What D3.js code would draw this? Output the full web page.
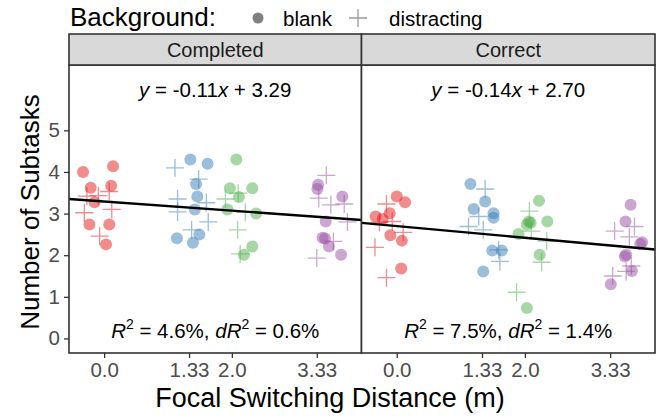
<!DOCTYPE html>
<html><head><meta charset="utf-8">
<script src="https://cdn.jsdelivr.net/npm/d3@7"></script>
<style>body{margin:0;background:#fff}text{font-family:"Liberation Sans",Arial,sans-serif}</style>
</head><body><svg id="c" width="660" height="418"></svg>
<script>
// ---- data ----
const distances = [0, 1.33, 2.0, 3.33];
const distanceLabels = ["0.0", "1.33", "2.0", "3.33"];
const colors = ["#E41A1C", "#377EB8", "#4DAF4A", "#984EA3"];
const panels = ["Completed", "Correct"];
const yTicks = [0, 1, 2, 3, 4, 5];
const equations = [{slope: -0.11, intercept: 3.29}, {slope: -0.14, intercept: 2.70}];
const r2 = ["4.6%", "7.5%"];
const dr2 = ["0.6%", "1.4%"];

// jittered points: [x, y] per distance group
const completedBlank = [
  [[-0.33,4.00],[0.14,4.14],[-0.21,3.62],[0.11,3.67],[-0.15,3.27],[-0.23,2.74],[0.08,2.74],[0.03,2.26]],
  [[1.35,4.30],[1.62,4.20],[1.44,3.71],[1.46,3.41],[1.42,3.10],[1.49,2.50],[1.14,2.41],[1.39,2.30]],
  [[2.07,4.30],[1.97,3.61],[2.32,3.61],[2.11,3.40],[1.93,3.10],[2.38,3.00],[2.32,2.21],[2.19,2.01]],
  [[3.35,3.69],[3.34,3.59],[3.73,3.41],[3.47,2.81],[3.42,2.42],[3.46,2.40],[3.52,2.21],[3.71,2.01]]
];
const completedDistracting = [
  [[-0.09,3.43],[0.08,3.53],[-0.27,3.42],[-0.31,3.02],[0.12,3.10],[-0.07,2.46]],
  [[1.11,4.10],[1.48,3.83],[1.15,3.35],[1.15,3.04],[1.60,3.26],[1.63,2.80],[1.37,2.61]],
  [[1.90,3.35],[2.10,3.49],[2.21,3.03],[2.09,2.61],[2.13,2.03]],
  [[3.48,3.92],[3.36,3.37],[3.55,3.21],[3.76,3.23],[3.81,2.80],[3.59,2.33],[3.33,1.93]]
];
const correctBlank = [
  [[0.00,3.41],[0.13,3.27],[-0.11,3.01],[-0.33,2.93],[-0.22,2.87],[-0.10,2.48],[0.08,2.35],[0.07,1.68]],
  [[1.15,3.71],[1.38,3.29],[1.20,3.11],[1.51,3.01],[1.51,2.90],[1.49,2.11],[1.64,2.11],[1.35,1.61]],
  [[2.22,3.31],[2.35,2.81],[2.06,2.81],[2.03,2.73],[2.09,2.78],[1.90,2.51],[2.23,2.01],[2.03,0.73]],
  [[3.65,3.21],[3.57,2.81],[3.83,2.31],[3.80,2.27],[3.58,2.01],[3.56,1.97],[3.67,1.62],[3.34,1.30]]
];
const correctDistracting = [
  [[-0.16,3.23],[-0.27,2.79],[-0.07,2.81],[0.10,2.55],[-0.34,2.19],[-0.16,1.46]],
  [[1.38,3.59],[1.28,2.93],[1.12,2.69],[1.35,2.61],[1.59,2.13],[1.61,1.85]],
  [[2.07,3.06],[2.10,2.58],[2.34,2.34],[2.26,1.83],[1.87,1.11]],
  [[3.40,2.58],[3.71,2.69],[3.63,2.44],[3.66,1.74],[3.37,1.50],[3.58,1.61]]
];
const blankData = [completedBlank, correctBlank];
const distractingData = [completedDistracting, correctDistracting];

(function () {
// ---- layout ----
const svg = d3.select("#c");
const xDomain = [-0.55, 4.03];
const panelX = [[69, 361.5], [361.5, 655]];
const pTop = 65, pBottom = 353, stripTop = 34;
const y = d3.scaleLinear().domain([-0.35, 6.57]).range([pBottom, pTop]);
const border = "#333333";

panels.forEach((name, p) => {
  const x = d3.scaleLinear().domain(xDomain).range(panelX[p]);
  const g = svg.append("g");
  const [x0, x1] = panelX[p];
  g.append("rect").attr("x", x0).attr("y", pTop).attr("width", x1 - x0).attr("height", pBottom - pTop)
    .attr("fill", "#fff");
  blankData[p].forEach((grp, i) => {
    g.selectAll(null).data(grp).enter().append("circle")
      .attr("cx", d => x(d[0])).attr("cy", d => y(d[1])).attr("r", 6)
      .attr("fill", colors[i]).attr("fill-opacity", 0.5);
  });
  distractingData[p].forEach((grp, i) => {
    const s = 9;
    g.selectAll(null).data(grp).enter().append("path")
      .attr("d", d => { const cx = x(d[0]), cy = y(d[1]);
        return `M${cx - s},${cy}H${cx + s}M${cx},${cy - s}V${cy + s}`; })
      .attr("stroke", colors[i]).attr("stroke-opacity", 0.5).attr("stroke-width", 1.3).attr("fill", "none");
  });
  const eq = equations[p];
  g.append("line").attr("x1", x(xDomain[0])).attr("x2", x(xDomain[1]))
    .attr("y1", y(eq.intercept + eq.slope * xDomain[0])).attr("y2", y(eq.intercept + eq.slope * xDomain[1]))
    .attr("stroke", "#000").attr("stroke-width", 2.4);
  g.append("rect").attr("x", x0).attr("y", pTop).attr("width", x1 - x0).attr("height", pBottom - pTop)
    .attr("fill", "none").attr("stroke", border).attr("stroke-width", 1.6);
  g.append("rect").attr("x", x0).attr("y", stripTop).attr("width", x1 - x0).attr("height", pTop - stripTop)
    .attr("fill", "#D9D9D9").attr("stroke", border).attr("stroke-width", 1.6);
  g.append("text").attr("x", (x0 + x1) / 2).attr("y", 57).attr("text-anchor", "middle")
    .attr("font-size", 20).attr("fill", "#1A1A1A").text(name);
  const ax = g.append("g").attr("transform", `translate(0,${pBottom})`)
    .call(d3.axisBottom(x).tickValues(distances).tickFormat((d, i) => distanceLabels[i]).tickSize(5).tickPadding(4));
  ax.select(".domain").remove();
  ax.selectAll("line").attr("stroke", border).attr("stroke-width", 1.3);
  ax.selectAll("text").attr("font-size", 20.5).attr("fill", "#4D4D4D").attr("font-family", "Liberation Sans, Arial, sans-serif");
  const cx = (x0 + x1) / 2;
  const t1 = g.append("text").attr("x", cx).attr("y", 97).attr("text-anchor", "middle").attr("font-size", 20.5).attr("fill", "#000");
  t1.append("tspan").attr("font-style", "italic").text("y");
  t1.append("tspan").text(` = ${eq.slope.toFixed(2)}`);
  t1.append("tspan").attr("font-style", "italic").text("x");
  t1.append("tspan").text(` + ${eq.intercept.toFixed(2)}`);
  const t2 = g.append("text").attr("x", cx).attr("y", 338).attr("text-anchor", "middle").attr("font-size", 20.5).attr("fill", "#000");
  t2.append("tspan").attr("font-style", "italic").text("R");
  t2.append("tspan").attr("dy", -9).attr("font-size", 14).text("2");
  t2.append("tspan").attr("dy", 9).text(` = ${r2[p]}, `);
  t2.append("tspan").attr("font-style", "italic").text("dR");
  t2.append("tspan").attr("dy", -9).attr("font-size", 14).text("2");
  t2.append("tspan").attr("dy", 9).text(` = ${dr2[p]}`);
});

const ay = svg.append("g").attr("transform", `translate(${panelX[0][0]},0)`)
  .call(d3.axisLeft(y).tickValues(yTicks).tickFormat(d3.format("d")).tickSize(5).tickPadding(4));
ay.select(".domain").remove();
ay.selectAll("line").attr("stroke", border).attr("stroke-width", 1.3);
ay.selectAll("text").attr("font-size", 20.5).attr("fill", "#4D4D4D").attr("font-family", "Liberation Sans, Arial, sans-serif");

svg.append("text").attr("x", 330).attr("y", 407).attr("text-anchor", "middle").attr("font-size", 27).text("Focal Switching Distance (m)");
svg.append("text").attr("transform", `translate(39,212) rotate(-90)`).attr("text-anchor", "middle")
  .attr("font-size", 26).text("Number of Subtasks");

svg.append("text").attr("x", 70).attr("y", 26).attr("font-size", 26).text("Background:");
svg.append("circle").attr("cx", 258).attr("cy", 18).attr("r", 5.5).attr("fill", "#000").attr("fill-opacity", 0.5);
svg.append("text").attr("x", 283).attr("y", 26).attr("font-size", 20.5).text("blank");
svg.append("path").attr("d", "M349,18H367M358,9V27").attr("stroke", "#000").attr("stroke-opacity", 0.4).attr("stroke-width", 1.3);
svg.append("text").attr("x", 389).attr("y", 26).attr("font-size", 20.5).text("distracting");
})();
</script></body></html>
